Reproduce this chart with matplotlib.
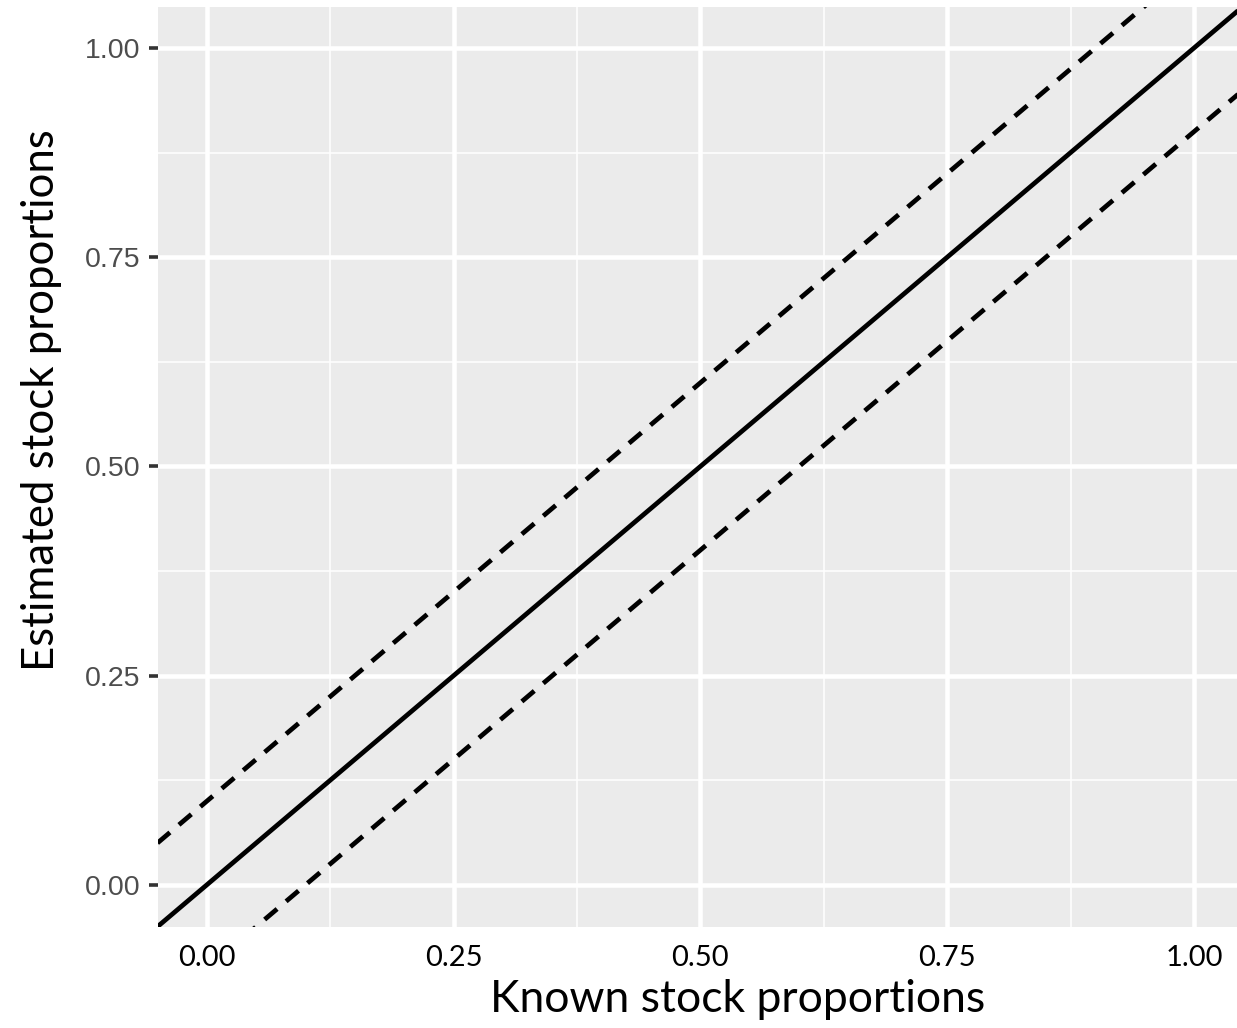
import matplotlib.pyplot as plt
import numpy as np

# identity line and +/- 0.1 bounds
x_line = [-0.05, 1.05]
offsets = [0.0, 0.1, -0.1]
styles = ["solid", "dashed", "dashed"]

xticks = [0.00, 0.25, 0.50, 0.75, 1.00]
yticks = [0.00, 0.25, 0.50, 0.75, 1.00]
minor_ticks = [0.125, 0.375, 0.625, 0.875]
tick_labels = ["0.00", "0.25", "0.50", "0.75", "1.00"]

fig = plt.figure(figsize=(12.37, 10.28), dpi=100)
ax = fig.add_axes([157.5 / 1237, 101.5 / 1028, 1 - 157.5 / 1237, (1021 - 101.5) / 1028])
ax.set_facecolor("#EBEBEB")

ax.set_xlim(-0.05, 1.0436)
ax.set_ylim(-0.0498, 1.049)

# grid, ggplot style
for v in minor_ticks:
    ax.axvline(v, color="white", lw=1.1, zorder=0.5)
    ax.axhline(v, color="white", lw=1.1, zorder=0.5)
for v in xticks:
    ax.axvline(v, color="white", lw=3.3, zorder=0.6)
for v in yticks:
    ax.axhline(v, color="white", lw=3.3, zorder=0.6)

xs = np.array(x_line)
for off, st in zip(offsets, styles):
    if st == "solid":
        ax.plot(xs, xs + off, color="black", lw=3.4, solid_capstyle="butt", zorder=3)
    else:
        ax.plot(xs, xs + off, color="black", lw=3.4, dashes=(3.45, 2.5), zorder=3)

for s in ax.spines.values():
    s.set_visible(False)

ax.set_xticks(xticks)
ax.set_xticklabels(tick_labels, fontfamily="Lato", fontsize=21, color="black")
ax.tick_params(axis="x", length=0, pad=13)
ax.set_yticks(yticks)
ax.set_yticklabels(tick_labels, fontfamily="Liberation Sans", fontsize=20.5, color="#4D4D4D")
ax.tick_params(axis="y", length=6.5, width=2.6, color="#333333", pad=6)

fig.text(738 / 1237, 1 - 1000 / 1028, "Known stock proportions", fontfamily="Lato",
         fontsize=32, ha="center", va="center")
fig.text(42 / 1237, 1 - 400 / 1028, "Estimated stock proportions", fontfamily="Lato",
         fontsize=31.5, ha="center", va="center", rotation=90)

fig.savefig("out.png", dpi=100)
